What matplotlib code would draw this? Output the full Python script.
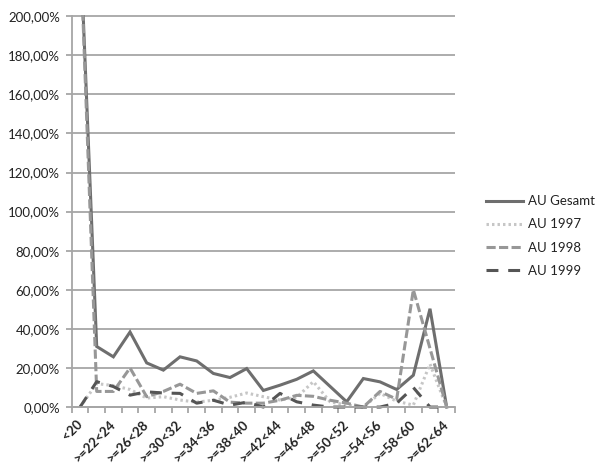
import matplotlib.pyplot as plt
import numpy as np

# categories: <20, >=20<22, ... >=62<64
categories = ["<20"] + [">=%d<%d" % (a, a + 2) for a in range(20, 64, 2)]

# values in percent (first point is clipped at 200%)
au_gesamt = [240, 31, 25.7, 38.4, 22.6, 18.9, 25.7, 23.6, 17.2, 15.1, 19.7, 8.5,
             11.2, 14.2, 18.5, 10.6, 2.7, 14.6, 12.9, 9.0, 16.3, 50.3, 0]
au_1997 = [0, 12, 11, 9, 4.6, 5.3, 3.6, 2.5, 3.5, 5, 7.2, 5.3,
           3.6, 5, 13, 2.7, 1, 0, 7, 3, 1, 22, 0]
au_1998 = [240, 8, 8, 20, 5.3, 8, 11.7, 7, 8.3, 2.5, 2, 2,
           3.5, 6, 5.5, 3.5, 2, 0, 8, 4, 60, 30, 0]
au_1999 = [0, 13, 10.5, 6.1, 7.8, 7.2, 7, 2, 3.5, 1, 2.5, 0,
           7, 2.7, 1, 0, 0, 0, 0, 2, 10, 0, 0]

series_names = ["AU Gesamt", "AU 1997", "AU 1998", "AU 1999"]
y_ticks = list(range(0, 201, 20))
y_labels = ["%d,00%%" % v for v in y_ticks]

plt.rcParams['font.family'] = ['Lato', 'DejaVu Sans']
text_color = '#222222'
grid_color = '#a6a6a6'

fig = plt.figure(figsize=(6, 4.73), dpi=100)
ax = fig.add_axes([71.7 / 600, 1 - 410 / 473, (455 - 71.7) / 600, (410 - 15) / 473])

x = np.arange(len(categories))
lw = 2.2
ax.plot(x, au_gesamt, color='#6e6e6e', lw=lw, solid_joinstyle='miter', label=series_names[0])
ax.plot(x, au_1997, color='#c6c6c6', lw=lw, dashes=(0.8, 1.0), dash_capstyle='butt',
        label=series_names[1])
ax.plot(x, au_1998, color='#979797', lw=lw, dashes=(3.0, 1.1), dash_capstyle='butt',
        label=series_names[2])
ax.plot(x, au_1999, color='#555555', lw=lw, dashes=(3.9, 3.2), dash_capstyle='butt',
        label=series_names[3])

ax.set_xlim(-0.5, len(categories) - 0.5)
ax.set_ylim(-1.5, 200.6)

# horizontal grid
for v in y_ticks:
    ax.axhline(v, color=grid_color, lw=1.3, zorder=0)

for s in ['top', 'right']:
    ax.spines[s].set_visible(False)
ax.spines['left'].set_color(grid_color)
ax.spines['left'].set_linewidth(1.3)
ax.spines['left'].set_bounds(0, 200)
ax.spines['bottom'].set_position(('data', 0))
ax.spines['bottom'].set_color(grid_color)
ax.spines['bottom'].set_linewidth(1.3)

ax.set_yticks(y_ticks)
ax.set_yticklabels(y_labels)
ax.tick_params(axis='y', length=4, width=1.3, color=grid_color, pad=4.5,
               labelsize=9.5, labelcolor=text_color)

# category boundaries as ticks, labels on every other category
ax.set_xticks(np.arange(-0.5, len(categories), 1))
ax.set_xticklabels([])
ax.tick_params(axis='x', which='major', length=4, width=1.3, color=grid_color)
ax.set_xticks(x[::2], minor=True)
ax.set_xticklabels(categories[::2], minor=True, rotation=45, ha='right',
                   va='center', rotation_mode='anchor', fontweight='bold')
ax.tick_params(axis='x', which='minor', length=0, pad=11, labelsize=9.5,
               labelcolor=text_color)

fig.legend(loc='center left', bbox_to_anchor=(474 / 600, 1 - 236 / 473),
           frameon=False, fontsize=9.5, handlelength=2.8, handletextpad=0.4,
           labelspacing=0.85, labelcolor=text_color)

fig.savefig('out.png', dpi=100)
